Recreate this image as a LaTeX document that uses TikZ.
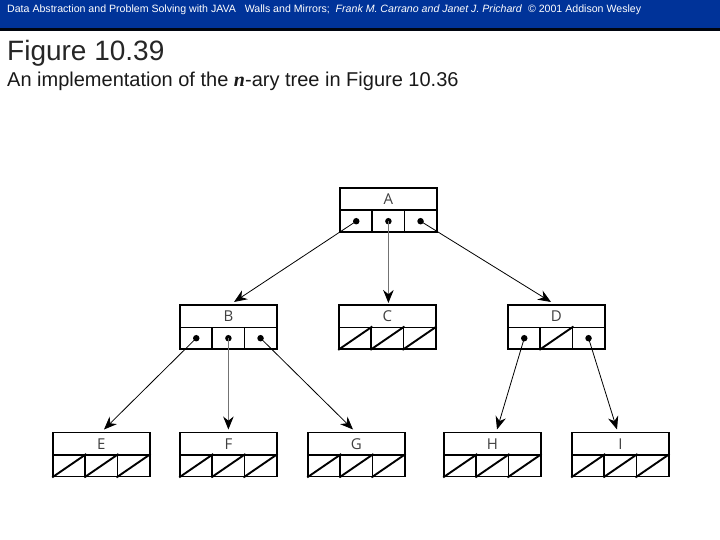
\documentclass[tikz,border=0pt]{standalone}
\usepackage{fontspec}
\setmainfont{Liberation Sans}
\newfontfamily\lblfont{Open Sans}
\newfontfamily\serfont{Liberation Serif}
\usetikzlibrary{arrows.meta,calc}
\definecolor{band}{RGB}{0,51,153}
\tikzset{
  x=1pt,y=-1pt,
  hdr/.style={draw=black,line width=1.9pt,minimum width=96.5pt,minimum height=22.5pt,inner sep=0pt,anchor=north west,font=\lblfont\fontsize{15}{15}\selectfont,text=black!75},
  cell/.style={draw=black,line width=1.9pt,minimum width=32.2pt,minimum height=21.5pt,inner sep=0pt,anchor=north west},
  ptr/.style={circle,fill=black,inner sep=0pt,minimum size=6.5pt},
  link/.style={draw=black,line width=0.8pt,-{Stealth[length=13pt,width=10.5pt]}},
  graylink/.style={draw=black!55,line width=1.1pt,-{Stealth[length=13pt,width=10.5pt,color=black]}},
  nul/.style={line width=1.9pt},
}
\newcommand{\tbox}[4]{%
  \node[hdr] (#1) at (#2,#3) {#4};
  \node[cell] (#1a) at ($(#2,#3)+(0,22.5)$) {};
  \node[cell] (#1b) at ($(#2,#3)+(32.15,22.5)$) {};
  \node[cell] (#1c) at ($(#2,#3)+(64.3,22.5)$) {};
}
\newcommand{\nullcell}[1]{\draw[nul] (#1.south west) -- (#1.north east);}
\newcommand{\ptrcell}[2]{\node[ptr] (#2) at (#1.center) {};}
\begin{document}
\begin{tikzpicture}
\useasboundingbox (0,0) rectangle (720,540);
\fill[band] (0,0) rectangle (720,28);
\fill[black!90!band] (0,28) rectangle (720,31);
\node[anchor=west,inner sep=0pt,text=white,font=\fontsize{10.6}{12}\selectfont] (hd) at (7,9.5)
  {Data Abstraction and Problem Solving with JAVA\ \ \ Walls and Mirrors;\ \ \textit{Frank M. Carrano and Janet J. Prichard}\ \ \textcopyright\ 2001 Addison Wesley};
\node[anchor=west,inner sep=0pt,font=\fontsize{28}{30}\selectfont,text=black!85] (ttl) at (7,53) {Figure 10.39};
\node[anchor=west,inner sep=0pt,font=\fontsize{20}{22}\selectfont,text=black!90] (sub) at (7,81.5) {An implementation of the {\serfont\bfseries\itshape n}-ary tree in Figure 10.36};

\tbox{A}{339.2}{187}{A}
\tbox{B}{179.2}{304}{B}
\tbox{C}{338.2}{304}{C}
\tbox{D}{507.2}{304}{D}
\tbox{E}{52.2}{431.5}{E}
\tbox{F}{179.2}{431.5}{F}
\tbox{G}{307.2}{431.5}{G}
\tbox{H}{443.2}{431.5}{H}
\tbox{I}{571.2}{431.5}{I}

\ptrcell{Aa}{pa1}\ptrcell{Ab}{pa2}\ptrcell{Ac}{pa3}
\ptrcell{Ba}{pb1}\ptrcell{Bb}{pb2}\ptrcell{Bc}{pb3}
\ptrcell{Da}{pd1}\ptrcell{Dc}{pd3}
\nullcell{Ca}\nullcell{Cb}\nullcell{Cc}
\nullcell{Db}
\nullcell{Ea}\nullcell{Eb}\nullcell{Ec}
\nullcell{Fa}\nullcell{Fb}\nullcell{Fc}
\nullcell{Ga}\nullcell{Gb}\nullcell{Gc}
\nullcell{Ha}\nullcell{Hb}\nullcell{Hc}
\nullcell{Ia}\nullcell{Ib}\nullcell{Ic}

\coordinate (tb) at (234,302);
\coordinate (tc) at (pa2 |- 0,303);
\coordinate (td) at (551,302);
\coordinate (te) at (104,429.5);
\coordinate (tf) at (pb2 |- 0,429.5);
\coordinate (tg) at (353,429.5);
\coordinate (th) at (497,429.5);
\coordinate (ti) at (617,429.5);

\draw[link] (pa1.center) -- (tb);
\draw[graylink] (pa2.center) -- (tc);
\draw[link] (pa3.center) -- (td);
\draw[link] (pb1.center) -- (te);
\draw[graylink] (pb2.center) -- (tf);
\draw[link] (pb3.center) -- (tg);
\draw[link] (pd1.center) -- (th);
\draw[link] (pd3.center) -- (ti);
\end{tikzpicture}
\end{document}
